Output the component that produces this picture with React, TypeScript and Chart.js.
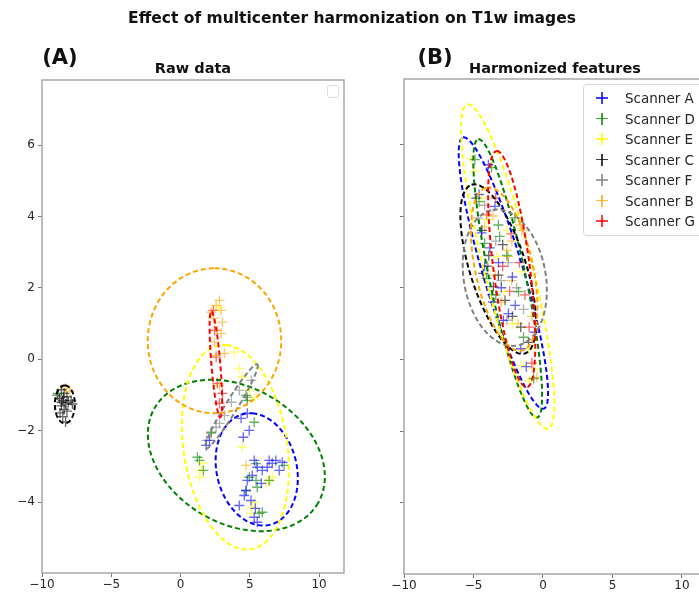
import React, { useEffect, useRef } from 'react';
import { Chart, registerables } from 'chart.js';

Chart.register(...registerables);

// ---------- categories / styling keys ----------
const scanners = ['Scanner A', 'Scanner D', 'Scanner E', 'Scanner C', 'Scanner F', 'Scanner B', 'Scanner G'];
const scannerColors = ['#0000ff', '#008000', '#ffff00', '#000000', '#808080', '#ffa500', '#ff0000'];

// ---------- ticks ----------
const xTicks = [-10, -5, 0, 5, 10];
const xTickLabels = ['−10', '−5', '0', '5', '10'];
const yTicks = [-4, -2, 0, 2, 4, 6];
const yTickLabels = ['−4', '−2', '0', '2', '4', '6'];

// ---------- (A) raw data points [x, y] ----------
const rawScannerA = [[4.82, -1.51], [4.37, -1.65], [1.85, -2.41], [2.09, -2.27], [5.32, -2.83], [5.54, -3.02], [6.4, -2.83], [6.88, -2.83], [7.34, -2.88], [7.12, -3.11], [5.9, -3.11], [5.18, -3.25], [4.82, -3.39], [4.73, -3.67], [4.6, -3.81], [5.09, -3.95], [5.54, -4.56], [5.32, -4.42], [6.26, -3.02], [6.62, -2.91], [4.53, -2.18], [4.96, -1.99], [5.83, -3.47], [4.24, -4.09], [5.4, -4.17]];
const rawScannerD = [[-8.85, -0.95], [4.73, -1.01], [4.82, -1.15], [5.32, -1.76], [2.21, -2.04], [1.22, -2.74], [1.37, -2.83], [4.96, -3.3], [5.45, -3.39], [7.48, -2.97], [4.73, -3.67], [5.54, -3.58], [5.9, -4.28], [5.68, -4.31], [5.45, -2.92], [1.65, -3.11], [6.4, -3.39]];
const rawScannerE = [[4.46, -2.46], [1.58, -2.91], [1.49, -3.11], [1.37, -3.3], [6.4, -3.39], [6.62, -3.3], [6.17, -3.47], [5.18, -4.14], [5.09, -4.31], [5.32, -4.0], [3.88, 0.2], [4.24, -0.25], [4.46, -0.5], [4.96, -0.87], [5.32, -1.09], [2.81, 1.46]];
const rawScannerC = [[-8.6, -0.85], [-8.4, -0.95], [-8.9, -1.0], [-8.2, -1.05], [-8.5, -1.15], [-7.9, -1.15], [-7.8, -1.25], [-8.3, -1.25], [-8.6, -1.3], [-8.4, -1.4], [-8.7, -1.5], [-8.2, -1.45], [-8.5, -1.6], [-8.3, -1.75], [-8.6, -1.2], [-8.1, -1.2], [-8.45, -1.05], [-8.75, -1.1]];
const rawScannerF = [[4.82, -1.06], [4.24, -0.87], [3.67, -1.2], [3.17, -1.57], [2.81, -1.79], [2.57, -1.9], [2.21, -2.07], [1.87, -2.27], [5.11, -0.59]];
const rawScannerB = [[2.57, 1.51], [2.21, 1.32], [2.93, 1.37], [3.02, 1.04], [2.66, 0.81], [2.93, 0.73], [2.45, 0.48], [3.17, 0.17], [2.57, 0.11], [2.81, 1.65], [2.37, 1.15], [2.81, -0.73], [4.73, -2.97], [-8.27, -0.81], [-7.99, -0.9]];
const rawScannerG = [[2.37, 1.37], [2.57, 0.06], [3.02, -0.95], [2.81, -1.23], [2.66, -0.67], [2.45, 0.81]];

// ---------- (B) harmonized features points [x, y] ----------
const harmScannerA = [[-3.93, 5.43], [-3.46, 4.27], [-4.42, 3.53], [-3.82, 3.11], [-2.49, 1.28], [-2.85, 1.09], [-2.0, 1.51], [-0.58, 0.76], [-4.6, 4.6], [-3.2, 2.7], [-3.0, 2.0], [-1.6, 0.3], [-1.2, -0.2], [-4.2, 2.6], [-2.2, 2.3], [-3.6, 1.6]];
const harmScannerD = [[-4.9, 5.57], [-3.7, 5.35], [-3.21, 3.75], [-3.12, 3.43], [-4.2, 3.24], [-2.03, 3.95], [-1.76, 1.89], [-4.06, 2.26], [-1.4, 0.62], [-0.67, -0.53], [-4.6, 4.4], [-2.6, 2.9], [-3.4, 1.8]];
const harmScannerE = [[-4.93, 5.25], [-3.33, 2.87], [-1.52, 2.45], [-1.52, -0.17], [-0.67, -0.26], [-5.2, 5.6], [-4.4, 4.5], [-2.6, 3.6], [-2.2, 1.0], [-1.0, 0.3], [-2.8, 1.9], [-4.0, 3.9], [-1.0, -0.6]];
const harmScannerC = [[-3.21, 2.35], [-3.57, 2.03], [-2.73, 1.65], [-1.04, 0.48], [-4.4, 3.6], [-4.8, 4.5], [-3.9, 2.9], [-2.2, 1.2], [-1.6, 0.9], [-2.9, 3.2], [-4.3, 2.4]];
const harmScannerF = [[-4.66, 3.94], [-4.2, 4.3], [-3.4, 3.3], [-2.5, 2.7], [-1.9, 2.0], [-3.7, 1.8], [-2.6, 1.1], [-1.4, 1.4], [-3.0, 2.2], [-4.0, 2.6]];
const harmScannerB = [[-2.6, 3.05], [-2.25, 3.3], [-1.65, 3.75], [-1.5, 3.6], [-2.5, 2.87], [-3.45, 2.35], [-2.25, 2.2], [-0.8, 1.2], [-3.95, 2.6], [-0.45, -0.5], [-4.2, 3.7], [-3.6, 4.0], [-3.0, 1.6], [-1.8, 1.0]];
const harmScannerG = [[-4.06, 4.03], [-3.4, 4.5], [-2.3, 3.5], [-1.7, 2.7], [-2.9, 2.6], [-1.3, 1.8], [-1.0, 0.9], [-0.8, -0.1], [-2.4, 1.9]];

// ---------- confidence ellipses: [cx, cy, ux, uy, vx, vy] (centre + two conjugate semi-axes, data units) ----------
const rawEllipses = [
  [5.5, -3.08, -0.32, 1.57, 2.95, -0.08],
  [4.03, -2.69, 5.9, -1.33, -2.45, -1.65],
  [3.96, -2.46, -0.65, 2.86, 3.81, -0.13],
  [-8.35, -1.26, 0, 0.53, 0.72, 0],
  [3.67, -1.32, 1.87, 1.18, 0.37, -0.09],
  [2.45, 0.52, 0, 2.03, 4.82, 0],
  [2.55, -0.14, -0.32, 1.48, 0.32, 0.01],
];
const harmEllipses = [
  [-2.85, 2.41, -2.9, 3.78, 1.39, 0.16],
  [-2.54, 2.26, -2.12, 3.88, 1.28, 0.1],
  [-2.54, 2.59, -2.9, 4.52, 1.69, 0.16],
  [-3.22, 2.52, -1.92, 2.35, 1.93, 0.24],
  [-2.75, 2.28, -0.87, 1.89, 2.9, 0.2],
  [-2.79, 2.52, -1.27, 2.27, 2.03, 0.17],
  [-2.25, 2.52, -1.09, 3.29, 1.3, 0.06],
];

const rawPoints = [rawScannerA, rawScannerD, rawScannerE, rawScannerC, rawScannerF, rawScannerB, rawScannerG];
const harmPoints = [harmScannerA, harmScannerD, harmScannerE, harmScannerC, harmScannerF, harmScannerB, harmScannerG];

const X_MIN = -10, X_MAX = 11.8, Y_MIN = -5.98, Y_MAX = 7.82;

function hexToRgba(hex: string, a: number) {
  const n = parseInt(hex.slice(1), 16);
  return `rgba(${(n >> 16) & 255},${(n >> 8) & 255},${n & 255},${a})`;
}

function makePlugins(ellipses: number[][]) {
  return [
    {
      id: 'ellipses',
      afterDatasetsDraw(chart: any) {
        const { ctx, chartArea, scales } = chart;
        const xs = scales.x, ys = scales.y;
        ctx.save();
        ctx.beginPath();
        ctx.rect(chartArea.left, chartArea.top, chartArea.right - chartArea.left, chartArea.bottom - chartArea.top);
        ctx.clip();
        ctx.setLineDash([5, 3]);
        ctx.lineWidth = 2;
        ellipses.forEach((e, i) => {
          const [cx, cy, ux, uy, vx, vy] = e;
          ctx.strokeStyle = scannerColors[i];
          ctx.beginPath();
          const N = 160;
          for (let k = 0; k <= N; k++) {
            const t = (k / N) * Math.PI * 2;
            const px = xs.getPixelForValue(cx + ux * Math.cos(t) + vx * Math.sin(t));
            const py = ys.getPixelForValue(cy + uy * Math.cos(t) + vy * Math.sin(t));
            if (k === 0) ctx.moveTo(px, py);
            else ctx.lineTo(px, py);
          }
          ctx.stroke();
        });
        ctx.restore();
      },
    },
    {
      id: 'frame',
      afterDraw(chart: any) {
        const { ctx, chartArea } = chart;
        ctx.save();
        ctx.strokeStyle = '#a8a8a8';
        ctx.lineWidth = 1.5;
        ctx.strokeRect(chartArea.left, chartArea.top, chartArea.right - chartArea.left, chartArea.bottom - chartArea.top);
        ctx.restore();
      },
    },
  ];
}

function makeConfig(points: number[][][], ellipses: number[][], opts: { top: number; right: number; yWidth: number; xHeight: number; yLabels: boolean }) {
  const font = { family: 'DejaVu Sans', size: 12 };
  return {
    type: 'scatter',
    data: {
      datasets: scanners.map((s, i) => ({
        label: s,
        data: points[i].map(([x, y]) => ({ x, y })),
        pointStyle: 'cross',
        pointRadius: 5,
        pointHoverRadius: 5,
        borderWidth: 1.3,
        borderColor: hexToRgba(scannerColors[i], 0.6),
        backgroundColor: hexToRgba(scannerColors[i], 0.6),
      })),
    },
    options: {
      animation: false,
      responsive: false,
      events: [],
      layout: { padding: { top: opts.top, right: opts.right, bottom: 0, left: 0 } },
      plugins: { legend: { display: false }, tooltip: { enabled: false }, title: { display: false } },
      scales: {
        x: {
          type: 'linear',
          min: X_MIN,
          max: X_MAX,
          afterBuildTicks: (s: any) => { s.ticks = xTicks.map((v) => ({ value: v })); },
          afterFit: (s: any) => { s.height = opts.xHeight; },
          ticks: {
            callback: (v: number) => xTickLabels[xTicks.indexOf(v)],
            color: '#262626',
            font,
            padding: 1,
            maxRotation: 0,
            autoSkip: false,
          },
          grid: { display: true, drawOnChartArea: false, drawTicks: true, tickLength: 4, color: '#777', lineWidth: 1 },
          border: { display: false },
        },
        y: {
          type: 'linear',
          min: Y_MIN,
          max: Y_MAX,
          afterBuildTicks: (s: any) => { s.ticks = yTicks.map((v) => ({ value: v })); },
          afterFit: (s: any) => { s.width = opts.yWidth; },
          ticks: {
            callback: (v: number) => (opts.yLabels ? yTickLabels[yTicks.indexOf(v)] : ''),
            color: '#262626',
            font,
            padding: 3,
            autoSkip: false,
          },
          grid: { display: true, drawOnChartArea: false, drawTicks: true, tickLength: 4, color: '#777', lineWidth: 1 },
          border: { display: false },
        },
      },
    },
    plugins: makePlugins(ellipses),
  } as any;
}

const abs = (left: number, top: number): React.CSSProperties => ({
  position: 'absolute',
  left,
  top,
  transform: 'translate(-50%, -50%)',
  whiteSpace: 'nowrap',
  fontFamily: 'DejaVu Sans',
  fontWeight: 'bold',
  color: '#111',
  lineHeight: 1,
});

function LegendCross({ color }: { color: string }) {
  return (
    <div style={{ position: 'relative', width: 12, height: 12 }}>
      <div style={{ position: 'absolute', left: 0, top: 5.3, width: 12, height: 1.4, background: color }} />
      <div style={{ position: 'absolute', left: 5.3, top: 0, width: 1.4, height: 12, background: color }} />
    </div>
  );
}

export default function App() {
  const refA = useRef<HTMLCanvasElement>(null);
  const refB = useRef<HTMLCanvasElement>(null);

  useEffect(() => {
    const a = new Chart(refA.current!, makeConfig(rawPoints, rawEllipses, { top: 80, right: 16, yWidth: 42, xHeight: 19, yLabels: true }));
    const b = new Chart(refB.current!, makeConfig(harmPoints, harmEllipses, { top: 79, right: 13, yWidth: 44, xHeight: 18, yLabels: false }));
    return () => {
      a.destroy();
      b.destroy();
    };
  }, []);

  return (
    <div style={{ position: 'fixed', left: 0, top: 0, width: 699, height: 592, overflow: 'hidden', background: '#fff' }}>
      <canvas ref={refA} width={360} height={592} style={{ position: 'absolute', left: 0, top: 0, width: 360, height: 592 }} />
      <canvas ref={refB} width={360} height={592} style={{ position: 'absolute', left: 360, top: 0, width: 360, height: 592 }} />

      <div style={{ ...abs(352, 19), fontSize: 15.5 }}>Effect of multicenter harmonization on T1w images</div>
      <div style={{ ...abs(60, 57), fontSize: 21 }}>(A)</div>
      <div style={{ ...abs(193, 68), fontSize: 14.5 }}>Raw data</div>
      <div style={{ ...abs(435, 57), fontSize: 21 }}>(B)</div>
      <div style={{ ...abs(555, 68), fontSize: 14.5 }}>Harmonized features</div>

      {/* empty legend of panel (A) */}
      <div style={{ position: 'absolute', left: 327, top: 85, width: 10, height: 11, border: '1px solid #ddd', borderRadius: 3, background: 'rgba(255,255,255,0.8)' }} />

      {/* legend of panel (B) */}
      <div style={{ position: 'absolute', left: 583, top: 84, width: 140, height: 150, border: '1px solid #d6d6d6', borderRadius: 4, background: 'rgba(255,255,255,0.8)' }}>
        {scanners.map((s, i) => (
          <div key={s} style={{ position: 'absolute', left: 0, top: 5 + i * 20.5, height: 16, display: 'flex', alignItems: 'center' }}>
            <div style={{ marginLeft: 12 }}>
              <LegendCross color={hexToRgba(scannerColors[i], 0.75)} />
            </div>
            <span style={{ marginLeft: 17, fontFamily: 'DejaVu Sans', fontSize: 13.5, color: '#262626' }}>{s}</span>
          </div>
        ))}
      </div>
    </div>
  );
}
